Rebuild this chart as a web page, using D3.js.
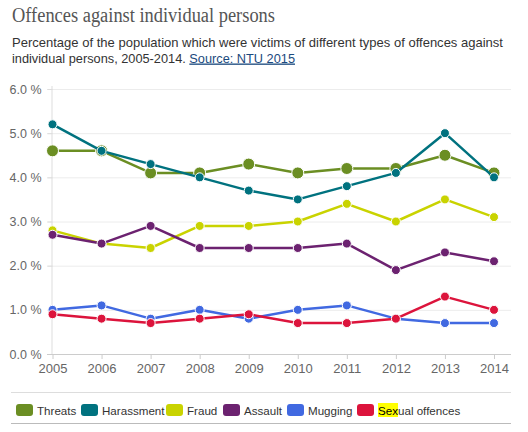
<!DOCTYPE html>
<html>
<head>
<meta charset="utf-8">
<script src="https://cdn.jsdelivr.net/npm/d3@7"></script>
<style>
  html, body { margin: 0; padding: 0; background: #fff; }
  svg { display: block; }
</style>
</head>
<body>
<svg id="chart" width="528" height="432"></svg>
<script>
// ── DATA ─────────────────────────────────────────────────────────────────────
const years = [2005, 2006, 2007, 2008, 2009, 2010, 2011, 2012, 2013, 2014];
const seriesNames = ['Threats', 'Harassment', 'Fraud', 'Assault', 'Mugging', 'Sexual offences'];
const threats    = [4.6, 4.6, 4.1, 4.1, 4.3, 4.1, 4.2, 4.2, 4.5, 4.1];
const harassment = [5.2, 4.6, 4.3, 4.0, 3.7, 3.5, 3.8, 4.1, 5.0, 4.0];
const fraud      = [2.8, 2.5, 2.4, 2.9, 2.9, 3.0, 3.4, 3.0, 3.5, 3.1];
const assault    = [2.7, 2.5, 2.9, 2.4, 2.4, 2.4, 2.5, 1.9, 2.3, 2.1];
const mugging    = [1.0, 1.1, 0.8, 1.0, 0.8, 1.0, 1.1, 0.8, 0.7, 0.7];
const sexual     = [0.9, 0.8, 0.7, 0.8, 0.9, 0.7, 0.7, 0.8, 1.3, 1.0];
const yTicks = [0, 1, 2, 3, 4, 5, 6];

// ── COLOURS ──────────────────────────────────────────────────────────────────
const colors = ['#6b8e23', '#00727f', '#c9d300', '#6c2270', '#4169e1', '#dc143c'];

const allSeries = [threats, harassment, fraud, assault, mugging, sexual].map((vals, i) => ({
  name: seriesNames[i],
  color: colors[i],
  r: i === 0 ? 6 : 4.5,
  values: vals.map((v, j) => ({ year: years[j], v }))
}));

// ── SETUP ────────────────────────────────────────────────────────────────────
const svg = d3.select('#chart');
const plotL = 52.5, plotR = 494, plotT = 89, plotB = 354;
const SANS = 'Arial, "Liberation Sans", sans-serif';

const x = d3.scalePoint().domain(years).range([plotL, plotR]);
const y = d3.scaleLinear().domain([0, 6]).range([plotB, plotT]);

// squeeze a text to a target width if it runs wider
function fitWidth(sel, w) {
  const len = sel.node().getComputedTextLength();
  if (len > w) sel.attr('textLength', w).attr('lengthAdjust', 'spacingAndGlyphs');
}

// title + subtitle
const title = svg.append('text')
  .attr('x', 12).attr('y', 22)
  .attr('font-family', '"Liberation Serif", Georgia, serif')
  .attr('font-size', 20)
  .attr('fill', '#555')
  .text('Offences against individual persons');
fitWidth(title, 263);

const sub = svg.append('g')
  .attr('font-family', SANS)
  .attr('font-size', 13.2)
  .attr('fill', '#333');
const l1 = sub.append('text').attr('x', 12).attr('y', 47)
  .text('Percentage of the population which were victims of different types of offences against');
fitWidth(l1, 491);
const l2 = sub.append('text').attr('x', 12).attr('y', 62.5);
l2.append('tspan').text('individual persons, 2005-2014. ');
l2.append('tspan').attr('fill', '#1b4a7e').attr('text-decoration', 'underline').text('Source: NTU 2015');
fitWidth(l2, 283);

// gridlines
svg.append('g')
  .selectAll('line')
  .data(yTicks.filter(d => d > 0))
  .join('line')
  .attr('x1', 47).attr('x2', 511)
  .attr('y1', d => y(d) + 0.5).attr('y2', d => y(d) + 0.5)
  .attr('stroke', '#ececec');

// y axis
const yAxis = svg.append('g')
  .attr('transform', `translate(${plotL},0)`)
  .call(d3.axisLeft(y).tickValues(yTicks).tickFormat(d => d3.format('.1f')(d) + ' %').tickSize(5).tickPadding(6));
yAxis.select('.domain').attr('stroke', '#ddd').attr('d', `M-0.5,${plotT - 3}V${plotB}`);
yAxis.selectAll('.tick line').attr('stroke', '#ddd');
yAxis.selectAll('text')
  .attr('font-family', SANS)
  .attr('font-size', 12.5).attr('fill', '#666');

// x axis
const xAxis = svg.append('g')
  .attr('transform', `translate(0,${plotB})`)
  .call(d3.axisBottom(x).tickSize(5).tickPadding(5));
xAxis.select('.domain').attr('stroke', '#ccc').attr('d', `M47,0.5H511`);
xAxis.selectAll('.tick line').attr('stroke', '#ccc');
xAxis.selectAll('text')
  .attr('font-family', SANS)
  .attr('font-size', 13).attr('fill', '#666');

// lines + markers
const line = d3.line().x(d => x(d.year)).y(d => y(d.v));
const sg = svg.append('g').selectAll('g').data(allSeries).join('g');
sg.append('path')
  .attr('d', d => line(d.values))
  .attr('fill', 'none')
  .attr('stroke', d => d.color)
  .attr('stroke-width', 2.5)
  .attr('stroke-linejoin', 'round');
sg.each(function(s) {
  d3.select(this).selectAll('circle')
    .data(s.values)
    .join('circle')
    .attr('cx', d => x(d.year))
    .attr('cy', d => y(d.v))
    .attr('r', s.r)
    .attr('fill', s.color)
    .attr('stroke', '#fff')
    .attr('stroke-width', 1);
});

// legend
svg.append('line').attr('x1', 11).attr('x2', 511).attr('y1', 392.5).attr('y2', 392.5).attr('stroke', '#ddd');
svg.append('line').attr('x1', 11).attr('x2', 511).attr('y1', 423.5).attr('y2', 423.5).attr('stroke', '#bbb');

const legX = [16, 81, 166, 223, 287, 357];
const leg = svg.append('g')
  .selectAll('g')
  .data(allSeries)
  .join('g')
  .attr('transform', (d, i) => `translate(${legX[i]},404)`);
leg.append('rect')
  .attr('width', 17).attr('height', 12).attr('rx', 3)
  .attr('fill', d => d.color);
leg.each(function(d) {
  const g = d3.select(this);
  const t = g.append('text')
    .attr('x', 21).attr('y', 10.5)
    .attr('font-family', SANS)
    .attr('font-size', 11.6)
    .attr('fill', '#333');
  if (d.name === 'Sexual offences') {
    // search highlight on "Sex"
    const probe = g.append('text')
      .attr('font-family', SANS)
      .attr('font-size', 11.6).text('Sex');
    const w = probe.node().getComputedTextLength();
    probe.remove();
    g.insert('rect', 'text').attr('x', 21).attr('y', -1).attr('width', w).attr('height', 14).attr('fill', '#ffff00');
    t.append('tspan').attr('fill', '#000').text('Sex');
    t.append('tspan').text('ual offences');
  } else {
    t.text(d.name);
  }
});
</script>
</body>
</html>
